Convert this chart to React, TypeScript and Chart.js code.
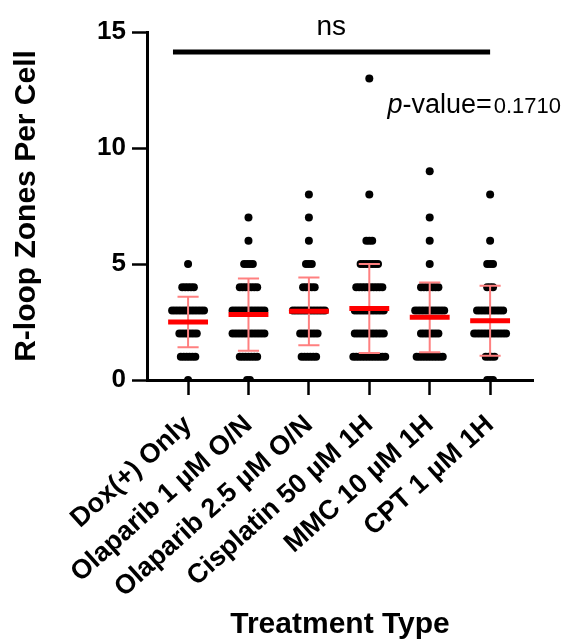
import React, { useEffect, useRef } from 'react';
import { Chart, registerables } from 'chart.js';

Chart.register(...registerables);

// ---- data ----
const categories = [
  'Dox(+) Only',
  'Olaparib 1 µM O/N',
  'Olaparib 2.5 µM O/N',
  'Cisplatin 50 µM 1H',
  'MMC 10 µM 1H',
  'CPT 1 µM 1H',
];
// number of cells having N R-loop zones (array index = N)
const doxCounts = [1, 6, 7, 12, 5, 1];
const olap1Counts = [2, 7, 12, 12, 7, 4, 1, 1];
const olap25Counts = [0, 6, 7, 12, 5, 3, 1, 1, 1];
const cisCounts = [0, 12, 11, 11, 10, 7, 3, 0, 1, 0, 0, 0, 0, 1];
const mmcCounts = [0, 10, 7, 11, 7, 1, 1, 1, 0, 1];
const cptCounts = [3, 4, 12, 10, 3, 3, 1, 0, 1];
const groupCounts = [doxCounts, olap1Counts, olap25Counts, cisCounts, mmcCounts, cptCounts];
const means = [2.5, 2.82, 2.96, 3.08, 2.7, 2.55];
const sds = [1.09, 1.56, 1.46, 1.92, 1.5, 1.51];
const yTicks = [0, 5, 10, 15];
const sigLabel = 'ns';
const pLabel = 'p';
const pRest = '-value=';
const pValue = '0.1710';

const FONT = "'Liberation Sans', Arial, sans-serif";

// layout constants (data units)
const X_MIN = -0.68;
const X_MAX = 5.71;
const DOT_STEP = 0.048;
const MEAN_HALF = 0.33;
const CAP_HALF = 0.175;

function buildDots() {
  const pts: { x: number; y: number }[] = [];
  groupCounts.forEach((counts, gi) => {
    counts.forEach((n, value) => {
      for (let k = 0; k < n; k++) {
        pts.push({ x: gi + (k - (n - 1) / 2) * DOT_STEP, y: value });
      }
    });
  });
  return pts;
}

function buildMeans() {
  const pts: any[] = [];
  means.forEach((m, i) => {
    pts.push({ x: i - MEAN_HALF, y: m });
    pts.push({ x: i + MEAN_HALF, y: m });
    pts.push({ x: i + 0.5, y: null });
  });
  return pts;
}

function buildSD() {
  const pts: any[] = [];
  means.forEach((m, i) => {
    const lo = m - sds[i];
    const hi = m + sds[i];
    pts.push({ x: i, y: lo });
    pts.push({ x: i, y: hi });
    pts.push({ x: i + 0.01, y: null });
    pts.push({ x: i - CAP_HALF, y: hi });
    pts.push({ x: i + CAP_HALF, y: hi });
    pts.push({ x: i + 0.02, y: null });
    pts.push({ x: i - CAP_HALF, y: lo });
    pts.push({ x: i + CAP_HALF, y: lo });
    pts.push({ x: i + 0.03, y: null });
  });
  return pts;
}

const annotationPlugin = {
  id: 'sigAnnotations',
  afterDraw(chart: any) {
    const { ctx, scales } = chart;
    const xs = scales.x;
    const ys = scales.y;
    ctx.save();
    // significance bar
    ctx.strokeStyle = '#000';
    ctx.lineWidth = 5;
    ctx.beginPath();
    const yb = ys.getPixelForValue(14.14);
    ctx.moveTo(xs.getPixelForValue(-0.25), yb);
    ctx.lineTo(xs.getPixelForValue(5.0), yb);
    ctx.stroke();
    // ns
    ctx.fillStyle = '#000';
    ctx.font = `28px ${FONT}`;
    ctx.textAlign = 'center';
    ctx.textBaseline = 'alphabetic';
    ctx.fillText(sigLabel, xs.getPixelForValue(2.37), ys.getPixelForValue(14.85));
    // p-value
    ctx.textAlign = 'left';
    let px = xs.getPixelForValue(3.3);
    const py = ys.getPixelForValue(11.5);
    ctx.font = `italic 27px ${FONT}`;
    ctx.fillText(pLabel, px, py);
    px += ctx.measureText(pLabel).width;
    ctx.font = `27px ${FONT}`;
    ctx.fillText(pRest, px, py);
    px += ctx.measureText(pRest).width + 2;
    ctx.font = `22px ${FONT}`;
    ctx.fillText(pValue, px, py);
    ctx.restore();
  },
};

export default function App() {
  const ref = useRef<HTMLCanvasElement | null>(null);

  useEffect(() => {
    if (!ref.current) return;
    const chart = new Chart(ref.current, {
      type: 'scatter',
      data: {
        datasets: [
          {
            type: 'line',
            data: buildMeans(),
            borderColor: '#ff0000',
            borderWidth: 5,
            pointRadius: 0,
            spanGaps: false,
            borderCapStyle: 'butt',
            order: 0,
          } as any,
          {
            type: 'line',
            data: buildSD(),
            borderColor: '#ff8080',
            borderWidth: 2,
            pointRadius: 0,
            spanGaps: false,
            order: 1,
          } as any,
          {
            type: 'scatter',
            data: buildDots(),
            pointRadius: 4,
            pointBackgroundColor: '#000',
            pointBorderWidth: 0,
            pointBorderColor: '#000',
            order: 2,
          } as any,
        ],
      },
      options: {
        responsive: false,
        animation: false,
        devicePixelRatio: 1,
        events: [],
        layout: { padding: { left: 0, top: 32, right: 41, bottom: 0 } },
        plugins: {
          legend: { display: false },
          tooltip: { enabled: false },
        },
        scales: {
          x: {
            type: 'linear',
            min: X_MIN,
            max: X_MAX,
            afterBuildTicks: (s: any) => {
              s.ticks = categories.map((_, i) => ({ value: i }));
            },
            afterFit: (s: any) => {
              s.height = 263;
            },
            ticks: {
              autoSkip: false,
              minRotation: 42,
              maxRotation: 42,
              padding: 14,
              color: '#000',
              font: { family: FONT, size: 27, weight: 'bold' },
              callback: (v: any) => categories[Math.round(Number(v))] ?? '',
            },
            grid: {
              display: true,
              drawOnChartArea: false,
              drawTicks: true,
              tickLength: 15,
              tickWidth: 2.5,
              tickColor: '#000',
            },
            border: { display: true, color: '#000', width: 3 },
            title: {
              display: true,
              text: 'Treatment Type',
              color: '#000',
              font: { family: FONT, size: 30, weight: 'bold' },
              padding: { top: 0, bottom: 0 },
            },
          },
          y: {
            type: 'linear',
            min: 0,
            max: 15,
            afterBuildTicks: (s: any) => {
              s.ticks = yTicks.map((v) => ({ value: v }));
            },
            afterFit: (s: any) => {
              s.width = 147;
            },
            ticks: {
              padding: 6,
              color: '#000',
              font: { family: FONT, size: 26, weight: 'bold' },
            },
            grid: {
              display: true,
              drawOnChartArea: false,
              drawTicks: true,
              tickLength: 15,
              tickWidth: 2.5,
              tickColor: '#000',
            },
            border: { display: true, color: '#000', width: 3 },
            title: {
              display: true,
              text: 'R-loop Zones Per Cell',
              color: '#000',
              font: { family: FONT, size: 30, weight: 'bold' },
              padding: { top: 9, bottom: 0 },
            },
          },
        },
      } as any,
      plugins: [annotationPlugin],
    });
    return () => chart.destroy();
  }, []);

  return (
    <div style={{ position: 'absolute', left: 0, top: 0, width: 574, height: 643, background: '#fff' }}>
      <canvas ref={ref} width={574} height={643} style={{ width: 574, height: 643, display: 'block' }} />
    </div>
  );
}
